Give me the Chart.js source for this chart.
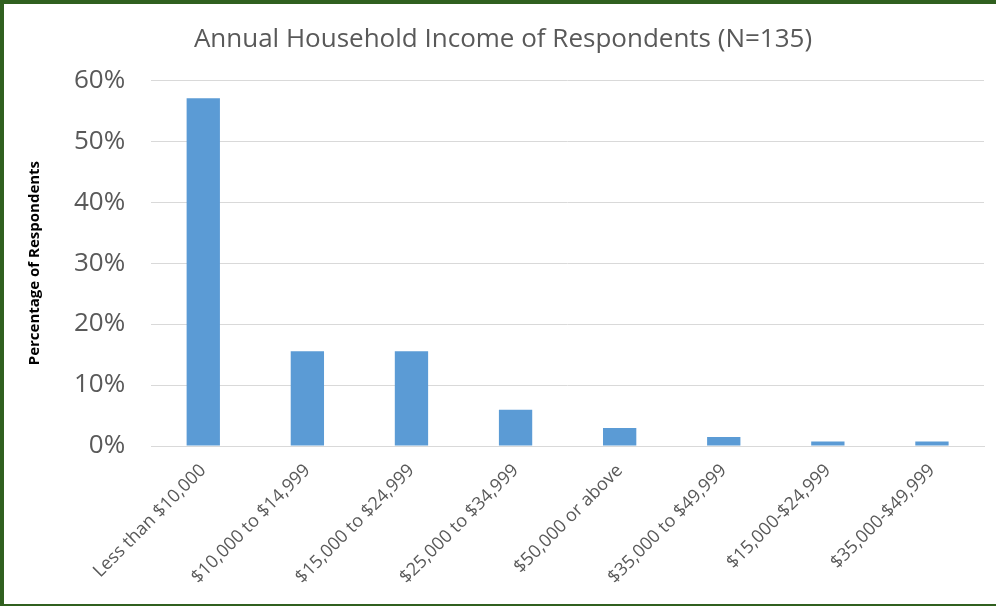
<!DOCTYPE html>
<html>
<head>
<meta charset="utf-8">
<script src="https://cdn.jsdelivr.net/npm/chart.js@4"></script>
<style>
  html, body { margin: 0; padding: 0; background: #fff; }
  #frame {
    width: 996px; height: 606px; box-sizing: border-box;
    border-top: 4px solid #30601f; border-left: 4px solid #30601f;
    border-bottom: 2px solid #30601f; border-right: 0;
    background: #fff;
  }
  #wrap { width: 992px; height: 600px; }
</style>
</head>
<body>
<div id="frame"><div id="wrap"><canvas id="chart"></canvas></div></div>
<script>
/* ---------- data ---------- */
const categories = [
  'Less than $10,000', '$10,000 to $14,999', '$15,000 to $24,999', '$25,000 to $34,999',
  '$50,000 or above', '$35,000 to $49,999', '$15,000-$24,999', '$35,000-$49,999',
];
const percentValues = [57.04, 15.56, 15.56, 5.93, 2.96, 1.48, 0.74, 0.74];
const yTicks = [0, 10, 20, 30, 40, 50, 60];

const FONT = 'Open Sans, "Noto Sans", sans-serif';
const GREY = '#595959';

new Chart(document.getElementById('chart'), {
  type: 'bar',
  data: {
    labels: categories,
    datasets: [{
      label: 'Percentage of Respondents',
      data: percentValues,
      backgroundColor: '#5b9bd5',
      barPercentage: 0.32,
      categoryPercentage: 1,
    }],
  },
  options: {
    responsive: true,
    maintainAspectRatio: false,
    animation: false,
    layout: { padding: { top: 8, right: 12, bottom: 10, left: 18 } },
    plugins: {
      legend: { display: false },
      tooltip: { enabled: false },
      title: {
        display: true,
        text: 'Annual Household Income of Respondents (N=135)',
        color: GREY,
        font: { family: FONT, size: 26, weight: 'normal' },
        padding: { top: 12, bottom: 25 },
      },
    },
    scales: {
      x: {
        grid: { display: false },
        border: { color: '#d9d9d9' },
        ticks: {
          color: GREY,
          font: { family: FONT, size: 18 },
          minRotation: 45,
          maxRotation: 45,
          padding: 6,
        },
      },
      y: {
        min: 0,
        max: 60,
        afterBuildTicks: axis => { axis.ticks = yTicks.map(v => ({ value: v })); },
        grid: { color: '#d9d9d9', drawTicks: false },
        border: { display: false },
        ticks: {
          color: GREY,
          font: { family: FONT, size: 26 },
          padding: 26,
          callback: v => v + '%',
        },
        title: {
          display: true,
          text: 'Percentage of Respondents',
          color: '#000',
          font: { family: FONT, size: 15, weight: 'bold' },
          padding: { bottom: 4 },
        },
      },
    },
  },
});
</script>
</body>
</html>
